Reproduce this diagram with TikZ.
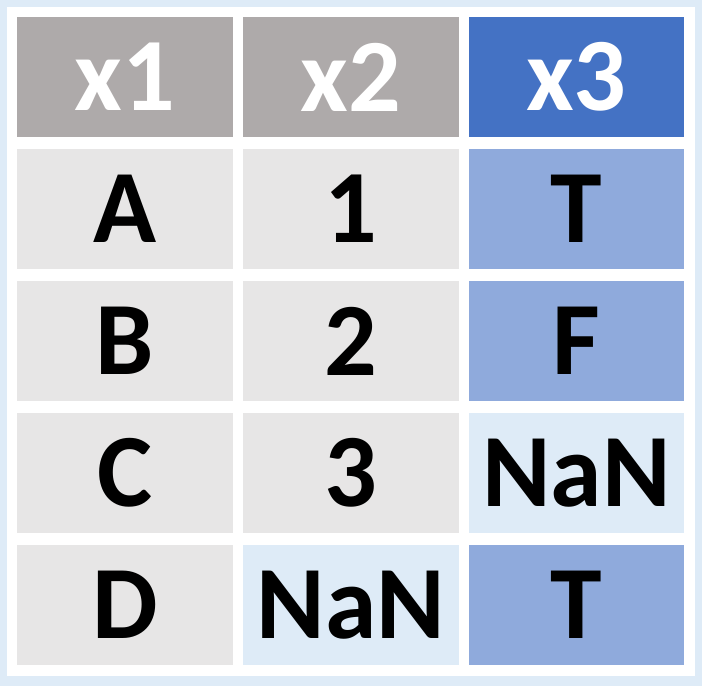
\documentclass[tikz,border=0pt]{standalone}
\usepackage{fontspec}
\setmainfont{Carlito}
\definecolor{hgray}{HTML}{AEAAAA}
\definecolor{hblue}{HTML}{4472C4}
\definecolor{bgray}{HTML}{E7E6E6}
\definecolor{bblue}{HTML}{8FAADC}
\definecolor{lblue}{HTML}{DEEBF7}
\begin{document}
\begin{tikzpicture}[x=1pt,y=-1pt,
  cellbox/.style={anchor=north west,minimum width=#1,minimum height=120pt,inner sep=0pt,outer sep=0pt,font=\fontsize{104}{104}\selectfont\bfseries},
  cellbox/.default=216pt]
\useasboundingbox (0,0) rectangle (702,686);
\fill[lblue] (0,0) rectangle (702,686);
\fill[white] (7,7) rectangle (695,676);
% header
\node[cellbox,fill=hgray,text=white] (h1) at (17,17) {x1};
\node[cellbox,fill=hgray,text=white] (h2) at (243,17) {x2};
\node[cellbox=215pt,fill=hblue,text=white] (h3) at (469,17) {x3};
% rows
\node[cellbox,fill=bgray] (a1) at (17,149) {A};
\node[cellbox,fill=bgray] (a2) at (243,149) {1};
\node[cellbox=215pt,fill=bblue] (a3) at (469,149) {T};
\node[cellbox,fill=bgray] (b1) at (17,281) {B};
\node[cellbox,fill=bgray] (b2) at (243,281) {2};
\node[cellbox=215pt,fill=bblue] (b3) at (469,281) {F};
\node[cellbox,fill=bgray] (c1) at (17,413) {C};
\node[cellbox,fill=bgray] (c2) at (243,413) {3};
\node[cellbox=215pt,fill=lblue] (c3) at (469,413) {NaN};
\node[cellbox,fill=bgray] (d1) at (17,545) {D};
\node[cellbox,fill=lblue] (d2) at (243,545) {NaN};
\node[cellbox=215pt,fill=bblue] (d3) at (469,545) {T};
\end{tikzpicture}
\end{document}
